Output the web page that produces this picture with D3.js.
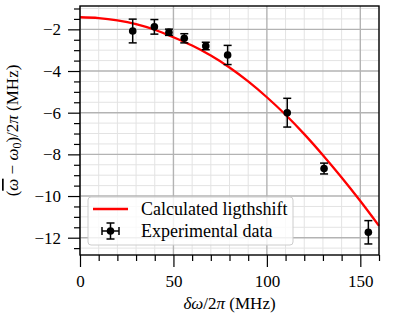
<!DOCTYPE html>
<html><head><meta charset="utf-8">
<script src="https://cdn.jsdelivr.net/npm/d3@7"></script>
<style>body{margin:0;background:#fff}svg{display:block}</style>
</head><body><svg id="c" width="399" height="319"></svg>
<script>
// Calculated light shift curve
const curveX = [0,10,20,30,40,50,60,70,80,90,100,110,120,130,140,150,160];
const curveY = [-1.42,-1.46,-1.57,-1.75,-2.02,-2.38,-2.78,-3.26,-3.83,-4.50,-5.26,-6.10,-7.03,-8.04,-9.11,-10.24,-11.43];
// Experimental data
const expX = [28.2,39.8,47.6,55.8,67.3,79.0,110.9,130.6,154.3];
const expY = [-2.08,-1.88,-2.14,-2.43,-2.80,-3.23,-6.00,-8.68,-11.74];
const expErrY = [0.57,0.35,0.15,0.22,0.18,0.46,0.69,0.26,0.56];
const expErrX = [1.0,1.0,1.0,1.0,1.0,1.0,1.0,1.0,1.0];
const xTicks = [0,50,100,150];
const yTicks = [-12,-10,-8,-6,-4,-2];
const legendLabels = ["Calculated ligthshift","Experimental data"];

const FF='"Liberation Serif"', FS="17px";
const W=399,H=319, m={l:80,t:6,r:20,b:64};
const svg=d3.select("#c");
const x=d3.scaleLinear().domain([0,160]).range([m.l,W-m.r]);
const y=d3.scaleLinear().domain([-12.83,-0.88]).range([H-m.b,m.t]);
const xMinor=d3.range(0,161,10).filter(v=>v%50!==0);
const yMinor=d3.range(-12.5,-0.9,0.5).filter(v=>Math.abs(v%2)>0.01);

const g=svg.append("g");
g.selectAll(".mgx").data(xMinor).join("line").attr("x1",d=>x(d)).attr("x2",d=>x(d)).attr("y1",m.t).attr("y2",H-m.b).attr("stroke","#e3e3e3").attr("stroke-width",1);
g.selectAll(".mgy").data(yMinor).join("line").attr("y1",d=>y(d)).attr("y2",d=>y(d)).attr("x1",m.l).attr("x2",W-m.r).attr("stroke","#e3e3e3").attr("stroke-width",1);
g.selectAll(".Mgx").data(xTicks).join("line").attr("x1",d=>x(d)).attr("x2",d=>x(d)).attr("y1",m.t).attr("y2",H-m.b).attr("stroke","#b3b3b3").attr("stroke-width",1.4);
g.selectAll(".Mgy").data(yTicks).join("line").attr("y1",d=>y(d)).attr("y2",d=>y(d)).attr("x1",m.l).attr("x2",W-m.r).attr("stroke","#b3b3b3").attr("stroke-width",1.4);

const line=d3.line().x((d,i)=>x(curveX[i])).y(d=>y(d)).curve(d3.curveMonotoneX);
svg.append("path").datum(curveY).attr("d",line).attr("fill","none").attr("stroke","#ff0000").attr("stroke-width",2.3);

const eb=svg.append("g").attr("stroke","#000").attr("stroke-width",1.5);
expX.forEach((xv,i)=>{
  const cx=x(xv), cy=y(expY[i]), y0=y(expY[i]-expErrY[i]), y1=y(expY[i]+expErrY[i]);
  const x0=x(xv-expErrX[i]), x1=x(xv+expErrX[i]);
  eb.append("line").attr("x1",cx).attr("x2",cx).attr("y1",y0).attr("y2",y1);
  eb.append("line").attr("x1",cx-4).attr("x2",cx+4).attr("y1",y0).attr("y2",y0);
  eb.append("line").attr("x1",cx-4).attr("x2",cx+4).attr("y1",y1).attr("y2",y1);
  eb.append("line").attr("x1",x0).attr("x2",x1).attr("y1",cy).attr("y2",cy);
  eb.append("line").attr("x1",x0).attr("x2",x0).attr("y1",cy-2.5).attr("y2",cy+2.5);
  eb.append("line").attr("x1",x1).attr("x2",x1).attr("y1",cy-2.5).attr("y2",cy+2.5);
  svg.append("circle").attr("cx",cx).attr("cy",cy).attr("r",3.8).attr("fill","#000");
});

const xa=svg.append("g").attr("transform",`translate(0,${H-m.b})`)
  .call(d3.axisBottom(x).tickValues(xTicks).tickSize(12).tickPadding(8).tickFormat(d3.format("d")));
const xm=svg.append("g").attr("transform",`translate(0,${H-m.b})`)
  .call(d3.axisBottom(x).tickValues(xMinor).tickSize(6).tickFormat(""));
const ya=svg.append("g").attr("transform",`translate(${m.l},0)`)
  .call(d3.axisLeft(y).tickValues(yTicks).tickSize(12).tickPadding(7).tickFormat(d=>d<0?"\u2212"+Math.abs(d):d));
const ym=svg.append("g").attr("transform",`translate(${m.l},0)`)
  .call(d3.axisLeft(y).tickValues(yMinor).tickSize(6).tickFormat(""));
[xa,xm,ya,ym].forEach(a=>{a.attr("font-family",null).attr("font-size",null);a.select(".domain").remove();a.selectAll("line").attr("stroke","#000").attr("stroke-width",1.2);a.selectAll("text").style("font-size",FS).style("font-family",FF).attr("fill","#000");});
svg.append("rect").attr("x",m.l).attr("y",m.t).attr("width",W-m.l-m.r).attr("height",H-m.t-m.b).attr("fill","none").attr("stroke","#000").attr("stroke-width",1.4);

const xl=svg.append("text").attr("x",(m.l+W-m.r)/2).attr("y",309).attr("text-anchor","middle").style("font-size",FS).style("font-family",FF);
xl.append("tspan").attr("font-style","italic").text("δω");
xl.append("tspan").text("/2");
xl.append("tspan").attr("font-style","italic").text("π");
xl.append("tspan").text(" (MHz)");

const yl=svg.append("text").attr("transform",`translate(18,${(m.t+H-m.b)/2}) rotate(-90)`).attr("text-anchor","middle").style("font-size",FS).style("font-family",FF);
yl.append("tspan").text("(");
yl.append("tspan").attr("font-style","italic").attr("text-decoration","overline").text("ω");
yl.append("tspan").text(" \u2212 ");
yl.append("tspan").attr("font-style","italic").text("ω");
yl.append("tspan").attr("dy",3).style("font-size","12px").text("0");
yl.append("tspan").attr("dy",-3).text(")/2");
yl.append("tspan").attr("font-style","italic").text("π");
yl.append("tspan").text(" (MHz)");

const lg=svg.append("g");
lg.append("rect").attr("x",88).attr("y",197).attr("width",205).attr("height",48).attr("rx",3).attr("fill","#fff").attr("fill-opacity",0.8).attr("stroke","#cccccc").attr("stroke-width",1);
lg.append("line").attr("x1",93).attr("x2",128).attr("y1",209).attr("y2",209).attr("stroke","#ff0000").attr("stroke-width",2.3);
const lx=110.5, ly=231;
const le=lg.append("g").attr("stroke","#000").attr("stroke-width",1.5);
le.append("line").attr("x1",lx).attr("x2",lx).attr("y1",ly-8).attr("y2",ly+8);
le.append("line").attr("x1",lx-4).attr("x2",lx+4).attr("y1",ly-8).attr("y2",ly-8);
le.append("line").attr("x1",lx-4).attr("x2",lx+4).attr("y1",ly+8).attr("y2",ly+8);
le.append("line").attr("x1",lx-8.5).attr("x2",lx+8.5).attr("y1",ly).attr("y2",ly);
le.append("line").attr("x1",lx-8.5).attr("x2",lx-8.5).attr("y1",ly-4).attr("y2",ly+4);
le.append("line").attr("x1",lx+8.5).attr("x2",lx+8.5).attr("y1",ly-4).attr("y2",ly+4);
lg.append("circle").attr("cx",lx).attr("cy",ly).attr("r",3.8).attr("fill","#000");
lg.selectAll(".lt").data(legendLabels).join("text").attr("x",141).attr("y",(d,i)=>214.5+i*22).style("font-size","18px").style("font-family",FF).attr("fill","#000").text(d=>d);
</script></body></html>
